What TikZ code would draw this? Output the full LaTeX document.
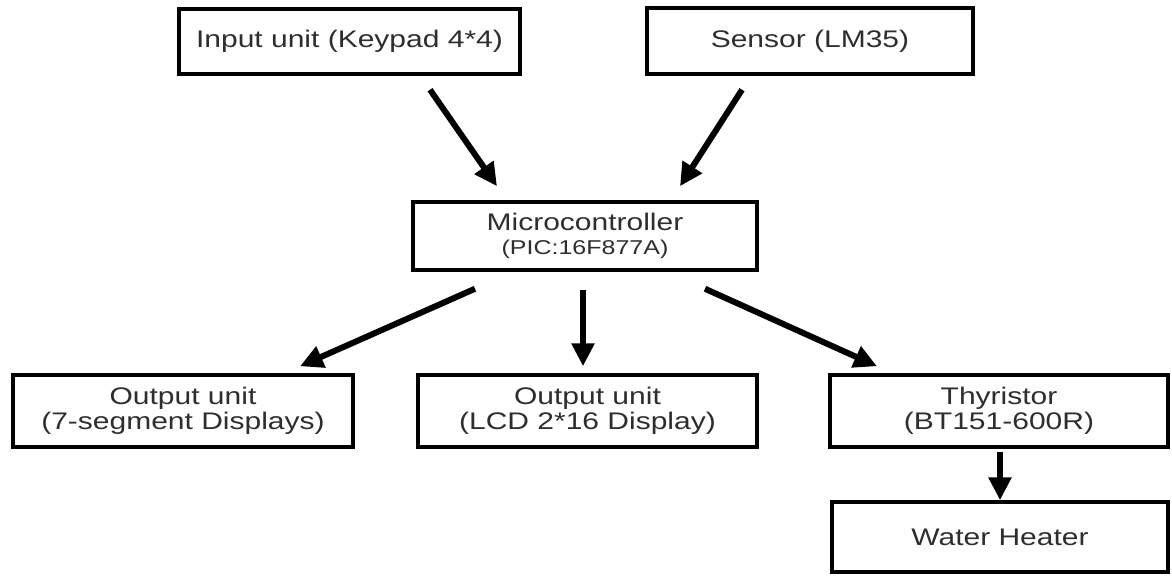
\documentclass[tikz,border=0pt]{standalone}
\usepackage{fontspec}
\setmainfont{Liberation Sans}[FakeStretch=1.25]
\usetikzlibrary{arrows.meta,shadows}
\definecolor{txt}{HTML}{2E2E2E}
\begin{document}
\begin{tikzpicture}[x=1pt,y=-1pt,
  blockbox/.style={draw=black, line width=3.5pt, fill=white, text=txt,
    align=center, inner sep=0pt,
    font=\fontsize{24}{25}\selectfont,
    drop shadow={shadow xshift=1.5pt, shadow yshift=-1.5pt, fill=black, opacity=0.18}},
  flow/.style={line width=6pt, -{Triangle[length=23pt,width=22pt]}}]
  \useasboundingbox (0,0) rectangle (1172,578);
  \fill[white] (0,0) rectangle (1172,578);

  % inputs
  \node[blockbox, minimum width=341pt, minimum height=65pt] (inp) at (349.5,41.5) {Input unit (Keypad 4*4)};
  \node[blockbox, minimum width=326pt, minimum height=66pt] (sen) at (810,41) {Sensor (LM35)};

  % controller
  \node[blockbox, minimum width=344pt, minimum height=68pt] (mcu) at (585,236)
    {Microcontroller\\[-1pt]{\fontsize{20}{22}\selectfont (PIC:16F877A)}};

  % outputs
  \node[blockbox, minimum width=340pt, minimum height=72pt] (seg) at (183,411) {Output unit\\(7-segment Displays)};
  \node[blockbox, minimum width=339pt, minimum height=72pt] (lcd) at (587.5,411) {Output unit\\(LCD 2*16 Display)};
  \node[blockbox, minimum width=338pt, minimum height=72pt] (thy) at (999,411) {Thyristor\\(BT151-600R)};
  \node[blockbox, minimum width=336pt, minimum height=70pt] (wat) at (1000,537) {Water Heater};

  % connections
  \draw[flow] ([xshift=80.5pt,yshift=-14pt]inp.south) -- ([xshift=-88pt,yshift=14pt]mcu.north);
  \draw[flow] ([xshift=-68pt,yshift=-14pt]sen.south) -- ([xshift=95pt,yshift=14pt]mcu.north);
  \draw[flow] ([xshift=-110pt,yshift=-17pt]mcu.south) -- ([xshift=117pt,yshift=7pt]seg.north);
  \draw[flow] ([xshift=-2pt,yshift=-18pt]mcu.south) -- ([xshift=-4.5pt,yshift=7pt]lcd.north);
  \draw[flow] ([xshift=120pt,yshift=-17pt]mcu.south) -- ([xshift=-122pt,yshift=7pt]thy.north);
  \draw[flow] ([xshift=1pt,yshift=-3pt]thy.south) -- (wat.north);
\end{tikzpicture}
\end{document}
